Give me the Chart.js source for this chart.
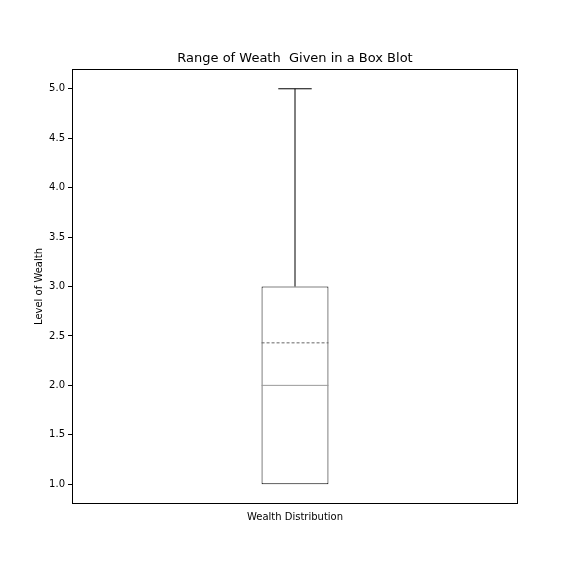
<!DOCTYPE html>
<html>
<head>
<meta charset="utf-8">
<script src="https://cdn.jsdelivr.net/npm/chart.js@4"></script>
<style>
  html, body { margin: 0; padding: 0; background: #fff; }
  #wrap { width: 576px; height: 576px; }
</style>
</head>
<body>
<div id="wrap"><canvas id="boxChart"></canvas></div>
<script>
// Data
const categories = ['Wealth Distribution'];
const boxLow = [1.0];      // lower whisker
const boxQ1 = [1.0];
const boxMedian = [2.0];
const boxMean = [2.43];
const boxQ3 = [3.0];
const boxHigh = [5.0];     // upper whisker
const yTicks = [1.0, 1.5, 2.0, 2.5, 3.0, 3.5, 4.0, 4.5, 5.0];
const chartTitle = 'Range of Weath  Given in a Box Blot';
const yTitle = 'Level of Wealth';

// whiskers, median, mean, frame and titles drawn via the chart scales
const boxExtras = {
  id: 'boxExtras',
  afterDatasetsDraw(chart) {
    const ctx = chart.ctx;
    const x = chart.scales.x, y = chart.scales.y;
    const meta = chart.getDatasetMeta(0);
    ctx.save();
    ctx.lineWidth = 1;
    categories.forEach((c, i) => {
      const bar = meta.data[i];
      const cx = x.getPixelForValue(i);
      const half = bar.width / 2;
      const cap = half / 2;
      ctx.strokeStyle = '#000';
      ctx.setLineDash([]);
      ctx.beginPath();
      ctx.moveTo(cx, y.getPixelForValue(boxQ3[i]));
      ctx.lineTo(cx, y.getPixelForValue(boxHigh[i]));
      ctx.moveTo(cx, y.getPixelForValue(boxQ1[i]));
      ctx.lineTo(cx, y.getPixelForValue(boxLow[i]));
      ctx.moveTo(cx - cap, y.getPixelForValue(boxHigh[i]));
      ctx.lineTo(cx + cap, y.getPixelForValue(boxHigh[i]));
      ctx.stroke();
      // median
      ctx.strokeStyle = '#999';
      ctx.beginPath();
      ctx.moveTo(cx - half, y.getPixelForValue(boxMedian[i]));
      ctx.lineTo(cx + half, y.getPixelForValue(boxMedian[i]));
      ctx.stroke();
      // mean
      ctx.strokeStyle = '#666';
      ctx.setLineDash([3, 2]);
      ctx.beginPath();
      ctx.moveTo(cx - half, y.getPixelForValue(boxMean[i]));
      ctx.lineTo(cx + half, y.getPixelForValue(boxMean[i]));
      ctx.stroke();
    });
    const a = chart.chartArea;
    ctx.setLineDash([]);
    ctx.strokeStyle = '#000';
    ctx.strokeRect(a.left + 0.5, a.top + 0.5, a.right - a.left - 1, a.bottom - a.top - 1);
    // titles
    ctx.fillStyle = '#000';
    ctx.textAlign = 'center';
    ctx.textBaseline = 'middle';
    ctx.font = '13px "DejaVu Sans"';
    ctx.fillText(chartTitle, (a.left + a.right) / 2, a.top - 10);
    ctx.font = '10px "DejaVu Sans"';
    ctx.translate(39, (a.top + a.bottom) / 2);
    ctx.rotate(-Math.PI / 2);
    ctx.fillText(yTitle, 0, 0);
    ctx.restore();
  }
};

new Chart(document.getElementById('boxChart'), {
  type: 'bar',
  data: {
    labels: categories,
    datasets: [{
      data: boxQ1.map((q, i) => [q, boxQ3[i]]),
      backgroundColor: '#fff',
      borderColor: '#000',
      borderWidth: 1,
      borderSkipped: false,
      barPercentage: 0.15,
      categoryPercentage: 1
    }]
  },
  options: {
    responsive: true,
    maintainAspectRatio: false,
    animation: false,
    layout: { padding: { left: 0, right: 58, top: 69, bottom: 53 } },
    plugins: {
      legend: { display: false },
      tooltip: { enabled: false },
      title: { display: false }
    },
    scales: {
      x: {
        grid: { display: false },
        border: { display: false },
        ticks: { display: false },
        title: {
          display: true, text: 'Wealth Distribution', color: '#000',
          font: { family: 'DejaVu Sans', size: 10 }, padding: { top: 0, bottom: 0 }
        },
        afterFit(s) { s.height = 19; }
      },
      y: {
        min: 0.8,
        max: 5.2,
        grid: { drawOnChartArea: false, tickLength: 4, color: '#000' },
        border: { display: false },
        afterBuildTicks(s) { s.ticks = yTicks.map(v => ({ value: v })); },
        ticks: {
          color: '#000',
          font: { family: 'DejaVu Sans', size: 10 },
          padding: 3,
          callback: v => Number(v).toFixed(1)
        },
        afterFit(s) { s.width = 72; }
      }
    }
  },
  plugins: [boxExtras]
});
</script>
</body>
</html>
